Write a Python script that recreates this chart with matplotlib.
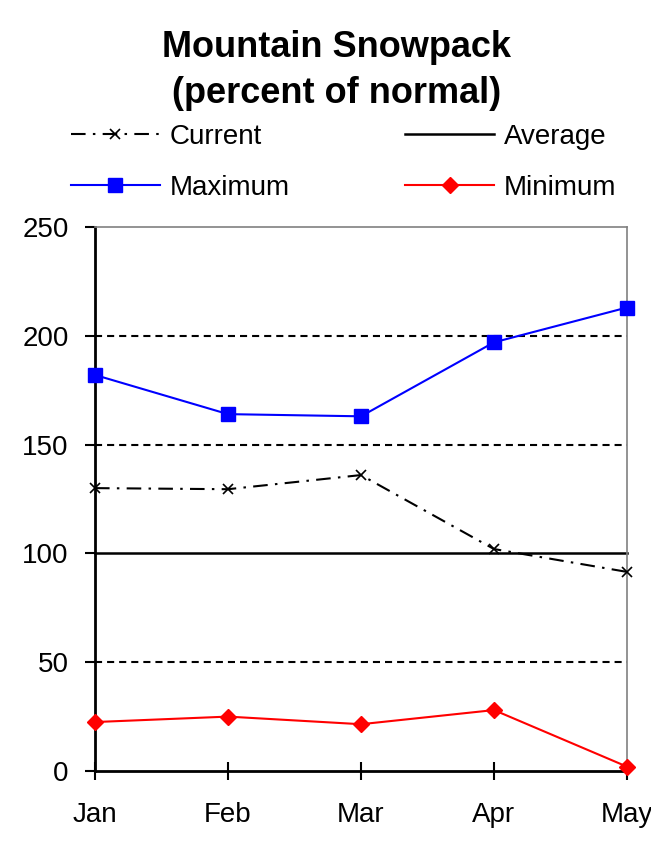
import matplotlib
matplotlib.use("Agg")
import matplotlib.pyplot as plt

# ================= 数据 =================
months   = ["Jan", "Feb", "Mar", "Apr", "May"]
current  = [130, 129.5, 136, 102, 91.5]
average  = [100, 100, 100, 100, 100]
maximum  = [182, 164, 163, 197, 213]
minimum  = [22.5, 25, 21.5, 28, 2]
y_ticks  = [0, 50, 100, 150, 200, 250]
grid_lv  = [50, 150, 200]
# ======================================

plt.rcParams["font.family"] = ["Liberation Sans", "DejaVu Sans"]

fig = plt.figure(figsize=(6.51, 8.61), dpi=100)
ax = fig.add_axes([95 / 651, 1 - 771 / 861, 532 / 651, 544 / 861])

x = list(range(len(months)))

# 虚线网格（100 处由 Average 实线代替）
for g in grid_lv:
    ax.axhline(g, color="black", lw=1.5, ls=(0, (3.4, 2.4)), zorder=1)

l_cur, = ax.plot(x, current, color="black", lw=1.5, ls=(0, (7, 3.5, 1.2, 3.5)),
                 marker="x", ms=7, mew=1.2, label="Current", zorder=3, clip_on=False)
l_avg, = ax.plot(x, average, color="black", lw=1.8, label="Average", zorder=2, clip_on=False)
l_max, = ax.plot(x, maximum, color="#0000ff", lw=1.5, marker="s", ms=9.5,
                 label="Maximum", zorder=4, clip_on=False)
l_min, = ax.plot(x, minimum, color="#ff0000", lw=1.5, marker="D", ms=8,
                 label="Minimum", zorder=4, clip_on=False)

ax.set_xlim(0, len(months) - 1)
ax.set_ylim(0, 250)
ax.set_xticks(x)
ax.set_xticklabels(months)
ax.set_yticks(y_ticks)

ax.tick_params(axis="y", direction="out", length=7, width=1.5, pad=12, labelsize=20)
ax.tick_params(axis="x", direction="inout", length=13, width=1.5, pad=16, labelsize=20)

ax.spines["left"].set_linewidth(2)
ax.spines["bottom"].set_linewidth(2)
ax.spines["right"].set_color("#808080")
ax.spines["top"].set_color("#808080")
ax.spines["right"].set_linewidth(1.2)
ax.spines["top"].set_linewidth(1.2)

fig.text(0.517, 1 - 30 / 861, "Mountain Snowpack\n(percent of normal)",
         ha="center", va="top", fontsize=26, fontweight="bold", linespacing=1.42)

fig.legend(handles=[l_cur, l_max, l_avg, l_min], ncol=2, loc="upper left",
           bbox_to_anchor=(57 / 651, 1 - 110 / 861), frameon=False, fontsize=20,
           borderpad=0, handlelength=3.2, handletextpad=0.35, columnspacing=4.17,
           labelspacing=0.9)

fig.savefig("out.png", dpi=100)
